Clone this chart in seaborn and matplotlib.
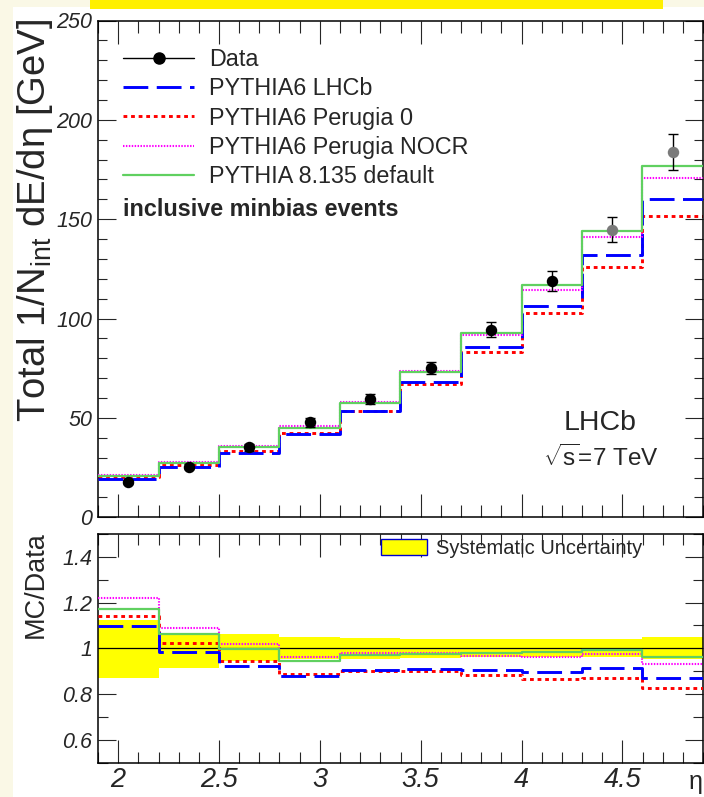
import numpy as np
import pandas as pd
import matplotlib
matplotlib.use("Agg")
import matplotlib.pyplot as plt
import seaborn as sns
from matplotlib.lines import Line2D
from matplotlib.patches import Patch, Rectangle
from matplotlib.ticker import MultipleLocator, FixedLocator, FixedFormatter

# ---------------- data ----------------
bin_edges = [1.9, 2.2, 2.5, 2.8, 3.1, 3.4, 3.7, 4.0, 4.3, 4.6, 4.9]
data_vals = [17.6, 25.5, 35.3, 47.8, 59.4, 74.9, 94.5, 118.8, 144.8, 183.7]
data_errs = [1.0, 1.3, 1.8, 2.2, 2.6, 3.0, 3.6, 5.0, 6.3, 9.0]
data_grey = [False, False, False, False, False, False, False, False, True, True]
lhcb_vals = [19.3, 25.1, 32.6, 41.9, 53.7, 68.0, 85.5, 106.4, 132.1, 160.0]
perugia0_vals = [20.1, 26.1, 33.3, 42.4, 53.5, 67.3, 83.4, 102.9, 126.1, 151.6]
nocr_vals = [21.5, 27.8, 35.9, 45.9, 58.1, 73.4, 91.5, 114.2, 141.0, 170.8]
py8_vals = [20.6, 27.1, 35.2, 45.1, 57.7, 73.1, 92.5, 116.7, 143.9, 176.9]
syst_lo = [0.871, 0.915, 0.945, 0.952, 0.954, 0.959, 0.960, 0.960, 0.960, 0.951]
syst_hi = [1.124, 1.062, 1.063, 1.049, 1.046, 1.041, 1.041, 1.041, 1.041, 1.049]

labels = ["PYTHIA6 LHCb", "PYTHIA6 Perugia 0", "PYTHIA6 Perugia NOCR", "PYTHIA 8.135 default"]
mc_series = [lhcb_vals, perugia0_vals, nocr_vals, py8_vals]
upper_yticks = [0, 50, 100, 150, 200, 250]
upper_ytick_labels = ["0", "50", "100", "150", "200", "250"]
lower_yticks = [0.6, 0.8, 1.0, 1.2, 1.4]
lower_ytick_labels = ["0.6", "0.8", "1", "1.2", "1.4"]
xticks = [2, 2.5, 3, 3.5, 4, 4.5]
xtick_labels = ["2", "2.5", "3", "3.5", "4", "4.5"]

# ---------------- style ----------------
sns.set_style("white")
plt.rcParams['font.family'] = ['Liberation Sans', 'DejaVu Sans']
plt.rcParams['mathtext.fontset'] = 'custom'
plt.rcParams['mathtext.rm'] = 'Liberation Sans'
plt.rcParams['mathtext.it'] = 'Liberation Sans:italic'
plt.rcParams['mathtext.bf'] = 'Liberation Sans:bold'

styles = [
    dict(color='#0000ff', lw=2.1, ls=(0, (8.5, 2.9))),
    dict(color='#ff0000', lw=2.1, ls=(0, (1.3, 1.3))),
    dict(color='#ff00ff', lw=1.5, ls=(0, (0.7, 0.7))),
    dict(color='#60d060', lw=1.6, ls='-'),
]
zord = [3, 2, 4, 5]

cream = '#faf8e6'
W, H = 704, 797
fig = plt.figure(figsize=(W / 100, H / 100), dpi=100)
fig.patch.set_facecolor('white')
fig.patches.append(Rectangle((0, 0), 13 / W, 1, transform=fig.transFigure,
                             facecolor=cream, edgecolor='none', zorder=-5))
fig.patches.append(Rectangle((0, 1 - 7 / H), 1, 7 / H, transform=fig.transFigure,
                             facecolor=cream, edgecolor='none', zorder=-5))
fig.patches.append(Rectangle((90 / W, 1 - 9 / H), (663 - 90) / W, 9 / H,
                             transform=fig.transFigure, facecolor='#fff000',
                             edgecolor='none', zorder=-4))

left, right = 98, 703
ax1 = fig.add_axes([left / W, 1 - 517.3 / H, (right - left) / W, (517.3 - 20.5) / H])
ax2 = fig.add_axes([left / W, 1 - 762.5 / H, (right - left) / W, (762.5 - 534) / H])

centers = [(a + b) / 2 for a, b in zip(bin_edges[:-1], bin_edges[1:])]


def step_df(vals):
    return pd.DataFrame({"x": bin_edges, "y": list(vals) + [vals[-1]]})


# ---------------- upper panel ----------------
for vals, st, z in zip(mc_series, styles, zord):
    sns.lineplot(data=step_df(vals), x="x", y="y", ax=ax1, drawstyle='steps-post',
                 color=st['color'], linewidth=st['lw'], linestyle=st['ls'],
                 estimator=None, sort=False, zorder=z)

df_data = pd.DataFrame({"x": centers, "y": data_vals, "err": data_errs, "grey": data_grey})
for grey, sub in df_data.groupby("grey"):
    col = '#7a7a7a' if grey else 'black'
    ax1.errorbar(sub["x"], sub["y"], yerr=sub["err"], fmt='none', ecolor='black',
                 elinewidth=1.0, capsize=3.5, capthick=1.0, zorder=6)
    sns.scatterplot(data=sub, x="x", y="y", ax=ax1, color=col, s=68,
                    linewidth=0, zorder=7)

ax1.set_xlim(1.9, 4.9)
ax1.set_ylim(0, 250)
ax1.set_xlabel("")
ax1.set_ylabel("")
ax1.xaxis.set_major_locator(MultipleLocator(0.5))
ax1.xaxis.set_minor_locator(MultipleLocator(0.1))
ax1.yaxis.set_major_locator(FixedLocator(upper_yticks))
ax1.yaxis.set_major_formatter(FixedFormatter(upper_ytick_labels))
ax1.yaxis.set_minor_locator(MultipleLocator(10))
ax1.tick_params(axis='x', which='major', direction='in', length=16.5, width=0.8,
                top=True, bottom=True, labelbottom=False)
ax1.tick_params(axis='x', which='minor', direction='in', length=8.4, width=0.8,
                top=True, bottom=True)
ax1.tick_params(axis='y', which='major', direction='in', length=13, width=0.8,
                left=True, right=True, labelsize=15.5, pad=4)
ax1.tick_params(axis='y', which='minor', direction='in', length=6.5, width=0.8,
                left=True, right=True)

fig.text(35 / W, 1 - 220 / H, r"Total 1/N$_{\mathrm{int}}$ dE/dη [GeV]", rotation=90,
         ha='center', va='center', fontsize=27.5)

handles = [Line2D([], [], color='black', lw=1.0, marker='o', ms=8)]
for st in styles:
    handles.append(Line2D([], [], color=st['color'], lw=st['lw'], linestyle=st['ls']))
leg = ax1.legend(handles, ["Data"] + labels, loc='upper left',
                 bbox_to_anchor=((123 - left) / (right - left), (517.3 - 48) / 496.8),
                 frameon=False, fontsize=16.8, handlelength=3.05, handletextpad=0.62,
                 labelspacing=0.27, borderpad=0, borderaxespad=0)
ax1.text((123 - left) / (right - left), (517.3 - 210) / 496.8, "inclusive minbias events",
         transform=ax1.transAxes, fontsize=16.8, fontweight='bold', ha='left', va='center')
ax1.text((600 - left) / (right - left), (517.3 - 423) / 496.8, "LHCb",
         transform=ax1.transAxes, fontsize=20.5, ha='center', va='center')
ax1.text((601 - left) / (right - left), (517.3 - 458) / 496.8, r"$\sqrt{\mathrm{s}}$=7 TeV",
         transform=ax1.transAxes, fontsize=17.5, ha='center', va='center')

# ---------------- lower panel ----------------
lo_ext = list(syst_lo) + [syst_lo[-1]]
hi_ext = list(syst_hi) + [syst_hi[-1]]
ax2.fill_between(bin_edges, lo_ext, hi_ext, step='post', color='#ffff00', lw=0, zorder=1)
ax2.axhline(1.0, color='black', lw=0.9, zorder=2)
for vals, st, z in zip(mc_series, styles, zord):
    ratio = [v / d for v, d in zip(vals, data_vals)]
    sns.lineplot(data=step_df(ratio), x="x", y="y", ax=ax2, drawstyle='steps-post',
                 color=st['color'], linewidth=st['lw'], linestyle=st['ls'],
                 estimator=None, sort=False, zorder=z + 1)

ax2.set_xlim(1.9, 4.9)
ax2.set_ylim(0.5, 1.5)
ax2.yaxis.set_major_locator(FixedLocator(lower_yticks))
ax2.yaxis.set_major_formatter(FixedFormatter(lower_ytick_labels))
ax2.yaxis.set_minor_locator(MultipleLocator(0.1))
ax2.xaxis.set_major_locator(FixedLocator(xticks))
ax2.xaxis.set_major_formatter(FixedFormatter(xtick_labels))
ax2.xaxis.set_minor_locator(MultipleLocator(0.1))
ax2.tick_params(axis='x', which='major', direction='in', length=16.3, width=0.8,
                top=True, bottom=True, labelsize=19.5, pad=3)
ax2.tick_params(axis='x', which='minor', direction='in', length=8, width=0.8,
                top=True, bottom=True)
ax2.tick_params(axis='y', which='major', direction='in', length=13, width=0.8,
                left=True, right=True, labelsize=15.5, pad=4)
ax2.tick_params(axis='y', which='minor', direction='in', length=7, width=0.8,
                left=True, right=True)
ax2.set_ylabel("")
ax2.set_xlabel("")
fig.text(36 / W, 1 - 585 / H, "MC/Data", rotation=90, ha='center', va='center', fontsize=19.5)
fig.text(696 / W, 1 - 782 / H, "η", ha='center', va='center', fontsize=18)

leg2 = ax2.legend([Patch(facecolor='#ffff00', edgecolor='#0000cc', lw=1.0)],
                  ["Systematic Uncertainty"], loc='upper left',
                  bbox_to_anchor=((381 - left) / (right - left), (762.5 - 539) / 228.5),
                  frameon=False, fontsize=14.5, handlelength=2.3, handleheight=0.85,
                  handletextpad=0.45, borderpad=0, borderaxespad=0)

for ax in (ax1, ax2):
    for sp in ax.spines.values():
        sp.set_color('black')
        sp.set_linewidth(1.1)
        sp.set_visible(True)
    ax.set_facecolor('white')

# italic tick labels (ROOT style)
fig.canvas.draw()
for ax in (ax1, ax2):
    for t in ax.yaxis.get_major_ticks() + ax.xaxis.get_major_ticks():
        t.label1.set_fontstyle('italic')
        t.label2.set_fontstyle('italic')

fig.savefig("out.png", dpi=100, facecolor='white')
